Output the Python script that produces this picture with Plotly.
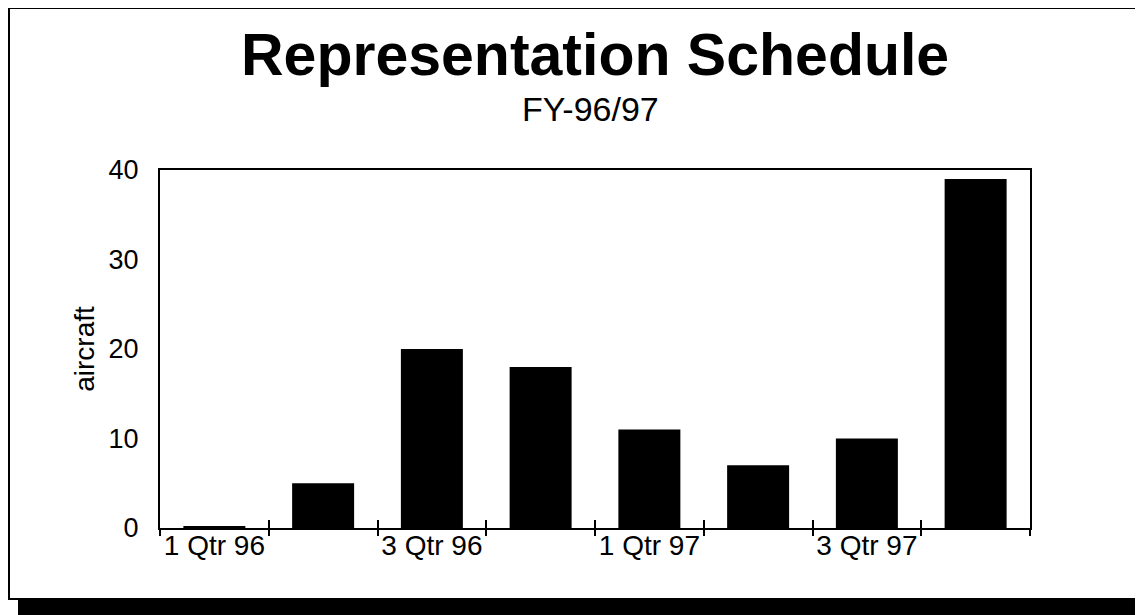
import plotly.graph_objects as go

# ---- data ----
quarters = ["1 Qtr 96", "2 Qtr 96", "3 Qtr 96", "4 Qtr 96",
            "1 Qtr 97", "2 Qtr 97", "3 Qtr 97", "4 Qtr 97"]
aircraft = [0.2, 5, 20, 18, 11, 7, 10, 39]
label_every = 2
y_ticks = [0, 10, 20, 30, 40]
title_text = "Representation Schedule"
subtitle_text = "FY-96/97"
y_title = "aircraft"

FONT = "Liberation Sans, Arial, sans-serif"
OFF = 8  # page body margin
W, H = 1143 - OFF, 615 - OFF
ML, MR, MT, MB = 160 - OFF, 113, 170 - OFF, 87
PW, PH = W - ML - MR, H - MT - MB

def px_x(p):  # page pixel -> paper
    return (p - OFF - ML) / PW

def px_y(p):
    return (H - MB - (p - OFF)) / PH

xs = list(range(len(quarters)))
bounds = [i - 0.5 for i in range(len(quarters) + 1)]
label_pos = xs[::label_every]
label_txt = quarters[::label_every]

fig = go.Figure()
fig.add_trace(go.Bar(x=xs, y=aircraft, marker=dict(color="black", line=dict(width=0)),
                     width=0.57, showlegend=False))
fig.add_trace(go.Scatter(x=[xs[0]], y=[0], xaxis="x2", mode="markers",
                         marker=dict(opacity=0), showlegend=False, hoverinfo="skip"))

fig.update_layout(
    width=W, height=H,
    margin=dict(l=ML, r=MR, t=MT, b=MB),
    paper_bgcolor="white", plot_bgcolor="white",
    font=dict(family=FONT, color="black"),
    xaxis=dict(range=[-0.5, len(quarters) - 0.5], tickvals=label_pos, ticktext=label_txt,
               ticks="", showgrid=False, zeroline=False,
               showline=True, linecolor="black", linewidth=2, mirror=True,
               tickfont=dict(size=28, family=FONT, color="black"),
               ticklabelstandoff=-9,
               minor=dict(tickvals=bounds, ticks="outside", ticklen=6, tickwidth=2,
                          tickcolor="black", showgrid=False)),
    xaxis2=dict(overlaying="x", matches="x", anchor="y", side="bottom",
                tickvals=bounds, ticks="inside", ticklen=8, tickwidth=2, tickcolor="black",
                showticklabels=False, showgrid=False, zeroline=False, showline=False),
    yaxis=dict(range=[0, 40], tickvals=y_ticks, ticks="", showgrid=False, zeroline=False,
               showline=True, linecolor="black", linewidth=2, mirror=True,
               tickfont=dict(size=27, family=FONT, color="black"),
               ticklabelstandoff=14,
               title=dict(text=y_title, font=dict(size=28, family=FONT, color="black"),
                          standoff=6)),
    shapes=[
        dict(type="rect", xref="paper", yref="paper",
             x0=px_x(18), x1=px_x(1150), y0=px_y(600), y1=px_y(620),
             fillcolor="black", line=dict(width=0), layer="below"),
        dict(type="rect", xref="paper", yref="paper",
             x0=px_x(9), x1=px_x(1140), y0=px_y(599), y1=px_y(8),
             fillcolor="rgba(0,0,0,0)", line=dict(color="black", width=2)),
    ],
    annotations=[
        dict(text="<b>" + title_text + "</b>", xref="paper", yref="paper",
             x=0.5, y=px_y(55), xanchor="center", yanchor="middle", showarrow=False,
             font=dict(size=59, family=FONT, color="black")),
        dict(text=subtitle_text, xref="paper", yref="paper",
             x=0.495, y=px_y(109), xanchor="center", yanchor="middle", showarrow=False,
             font=dict(size=34, family=FONT, color="black")),
    ],
)

fig.write_html("out.html")
